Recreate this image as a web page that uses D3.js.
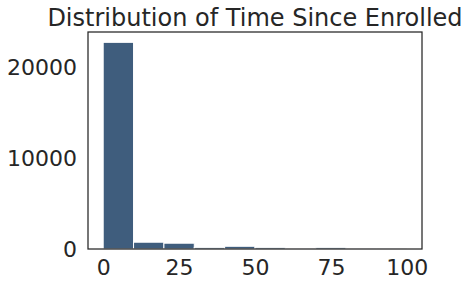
<!DOCTYPE html>
<html>
<head>
<meta charset="utf-8">
<script src="https://cdn.jsdelivr.net/npm/d3@7"></script>
<style>
  body { margin: 0; background: #fff; }
  text { font-family: "DejaVu Sans", sans-serif; fill: #262626; }
</style>
</head>
<body>
<svg id="chart" width="469" height="286"></svg>
<script>
// histogram bins (time since enrolled) and counts
const binEdges = [0, 10, 20, 30, 40, 50, 60, 70, 80, 90, 100];
const counts = [22800, 750, 640, 180, 300, 180, 30, 180, 30, 30];
const xTicks = [0, 25, 50, 75, 100];
const yTicks = [0, 10000, 20000];
const title = "Distribution of Time Since Enrolled";

const svg = d3.select("#chart");
const plotLeft = 88, plotRight = 422, plotTop = 32, plotBottom = 249;

const bins = counts.map((c, i) => ({ x0: binEdges[i], x1: binEdges[i + 1], count: c }));

// matplotlib-style 5% margins
const xMin = binEdges[0], xMax = binEdges[binEdges.length - 1];
const xPad = (xMax - xMin) * 0.05;
const x = d3.scaleLinear().domain([xMin - xPad, xMax + xPad]).range([plotLeft, plotRight]);
const y = d3.scaleLinear().domain([0, d3.max(counts) * 1.05]).range([plotBottom, plotTop]);

// bars
svg.append("g").selectAll("rect")
  .data(bins)
  .join("rect")
  .attr("x", d => x(d.x0))
  .attr("width", d => x(d.x1) - x(d.x0))
  .attr("y", d => y(d.count))
  .attr("height", d => y(0) - y(d.count))
  .attr("fill", "#3F5D7D")
  .attr("stroke", "#fff")
  .attr("stroke-width", 1);

// axes (no tick marks, labels only)
const xAxis = svg.append("g")
  .attr("transform", `translate(0,${plotBottom})`)
  .call(d3.axisBottom(x).tickValues(xTicks).tickSize(0).tickPadding(10));
xAxis.select(".domain").remove();
xAxis.selectAll("text").style("font-size", "22px").attr("fill", "#262626");

const yAxis = svg.append("g")
  .attr("transform", `translate(${plotLeft},0)`)
  .call(d3.axisLeft(y).tickValues(yTicks).tickFormat(d3.format("d")).tickSize(0).tickPadding(11));
yAxis.select(".domain").remove();
yAxis.selectAll("text").style("font-size", "22px").attr("fill", "#262626");

// frame
svg.append("rect")
  .attr("x", plotLeft).attr("y", plotTop)
  .attr("width", plotRight - plotLeft).attr("height", plotBottom - plotTop)
  .attr("fill", "none")
  .attr("stroke", "#262626")
  .attr("stroke-width", 1.25);

svg.append("text")
  .attr("x", (plotLeft + plotRight) / 2)
  .attr("y", 26)
  .attr("text-anchor", "middle")
  .style("font-size", "24px")
  .text(title);
</script>
</body>
</html>
